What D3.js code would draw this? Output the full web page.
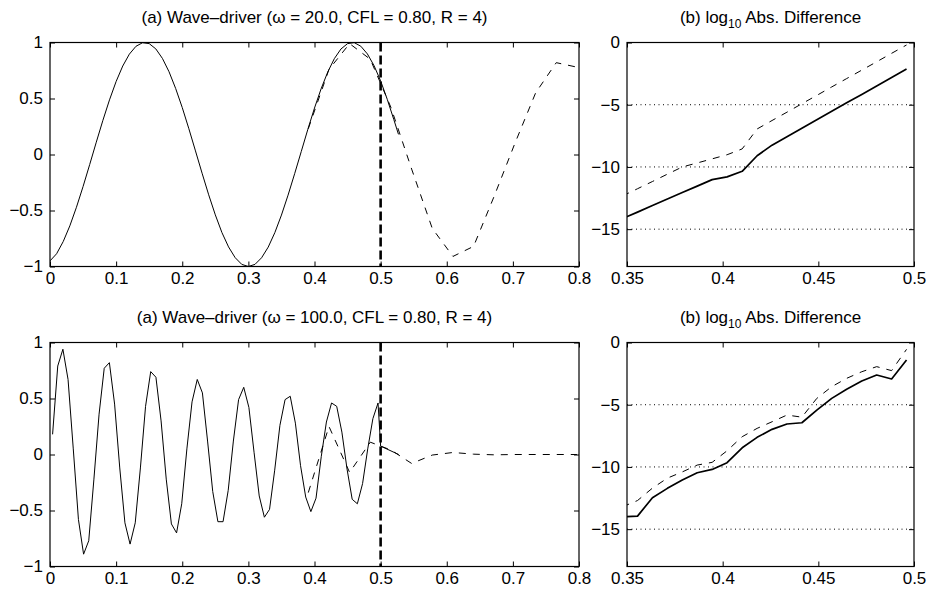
<!DOCTYPE html>
<meta charset="utf-8">
<style>
  body { margin: 0; background: #fff; }
  svg { font-family: Arial, "Liberation Sans", Helvetica, sans-serif; }
  .tick text { font-size: 17px; fill: #000; }
  .tick line { stroke: #000; }
  .title { font-size: 17px; text-anchor: middle; }
</style>
<svg id="fig" width="930" height="592"></svg>
<script src="https://d3js.org/d3.v7.min.js"></script>
<script>
// ---- data ----
var waveTicksX = [0, 0.1, 0.2, 0.3, 0.4, 0.5, 0.6, 0.7, 0.8];
var waveTicksY = [-1, -0.5, 0, 0.5, 1];
var diffTicksX = [0.35, 0.4, 0.45, 0.5];
var diffTicksY = [-15, -10, -5, 0];
var interfaceX = 0.5;

// omega = 20, fine solution (solid)
var fine20 = [[0,-0.95],[0.01,-0.886],[0.02,-0.777],[0.03,-0.637],[0.04,-0.471],[0.05,-0.286],[0.06,-0.09],
  [0.07,0.11],[0.08,0.305],[0.09,0.488],[0.1,0.652],[0.11,0.79],[0.12,0.896],[0.13,0.966],[0.14,0.998],
  [0.15,0.99],[0.16,0.943],[0.17,0.858],[0.18,0.739],[0.19,0.59],[0.2,0.419],[0.21,0.23],[0.22,0.032],
  [0.23,-0.167],[0.24,-0.36],[0.25,-0.539],[0.26,-0.697],[0.27,-0.825],[0.28,-0.921],[0.29,-0.981],
  [0.3,-1],[0.31,-0.981],[0.32,-0.922],[0.33,-0.827],[0.34,-0.698],[0.35,-0.541],[0.36,-0.363],
  [0.37,-0.171],[0.38,0.027],[0.39,0.226],[0.4,0.415],[0.41,0.587],[0.42,0.736],[0.43,0.856],
  [0.44,0.942],[0.45,0.99],[0.46,0.999],[0.47,0.967],[0.48,0.898],[0.49,0.794],[0.5,0.657],
  [0.51,0.493],[0.52,0.311],[0.527,0.18]];
// omega = 20, coarse solution (dashed)
var coarse20 = [[0.3906,0.23],[0.4219,0.76],[0.4531,0.99],[0.4844,0.85],[0.5156,0.42],[0.5469,-0.13],
  [0.5781,-0.66],[0.6094,-0.91],[0.6406,-0.82],[0.6719,-0.37],[0.7031,0.1],[0.7344,0.55],
  [0.7656,0.82],[0.7969,0.78]];

var fineX = [0.0039,0.0117,0.0195,0.0273,0.0352,0.0430,0.0508,0.0586,0.0664,0.0742,0.0820,0.0898,
  0.0977,0.1055,0.1133,0.1211,0.1289,0.1367,0.1445,0.1523,0.1602,0.1680,0.1758,0.1836,0.1914,0.1992,
  0.2070,0.2148,0.2227,0.2305,0.2383,0.2461,0.2539,0.2617,0.2695,0.2773,0.2852,0.2930,0.3008,0.3086,
  0.3164,0.3242,0.3320,0.3398,0.3477,0.3555,0.3633,0.3711,0.3789,0.3867,0.3945,0.4023,0.4102,0.4180,
  0.4258,0.4336,0.4414,0.4492,0.4570,0.4648,0.4727,0.4805,0.4883,0.4961,0.5,0.5273];
// omega = 100, fine solution (solid)
var fine100 = [0.18,0.79,0.94,0.67,0.05,-0.58,-0.89,-0.77,-0.22,0.36,0.77,0.82,0.45,-0.12,-0.61,-0.8,
  -0.61,-0.12,0.43,0.74,0.69,0.3,-0.22,-0.62,-0.7,-0.44,0.05,0.47,0.67,0.55,0.12,-0.33,-0.6,-0.6,
  -0.32,0.12,0.49,0.6,0.42,0.02,-0.37,-0.56,-0.49,-0.14,0.26,0.49,0.52,0.28,-0.1,-0.38,-0.51,-0.39,
  -0.02,0.29,0.46,0.43,0.2,-0.13,-0.4,-0.44,-0.26,0.05,0.32,0.46,0.075,0.0];
// omega = 100, coarse solution (dashed)
var coarse100 = [[0.3906,-0.34],[0.4219,0.25],[0.4531,-0.16],[0.4844,0.11],[0.5156,0.04],[0.5469,-0.08],
  [0.5781,-0.005],[0.6094,0.018],[0.6406,0.003],[0.6719,-0.003],[0.7031,0],[0.7344,0],[0.7656,0],[0.7969,0]];

var diffX = [0.3477,0.3555,0.3633,0.3711,0.3789,0.3867,0.3945,0.4023,0.4102,0.4180,0.4258,0.4336,
  0.4414,0.4492,0.4570,0.4648,0.4727,0.4805,0.4883,0.4961];
var diff20Solid = [-14.15,-13.63,-13.1,-12.58,-12.06,-11.54,-11.02,-10.8,-10.35,-9.1,-8.25,-7.57,-6.89,
  -6.21,-5.53,-4.85,-4.17,-3.49,-2.81,-2.13];
var diff20Dash = [-12.33,-11.75,-11.17,-10.58,-10.0,-9.68,-9.35,-9.02,-8.55,-6.95,-6.27,-5.6,-4.92,
  -4.25,-3.57,-2.9,-2.22,-1.55,-0.87,-0.2];
var diff100Solid = [-14.0,-13.95,-12.47,-11.72,-11.05,-10.47,-10.2,-9.66,-8.46,-7.62,-6.98,-6.55,-6.45,
  -5.43,-4.49,-3.76,-3.1,-2.61,-2.93,-1.41];
var diff100Dash = [-13.2,-12.7,-11.7,-10.9,-10.4,-9.85,-9.63,-8.7,-7.57,-6.9,-6.37,-5.83,-6.0,-4.49,
  -3.55,-2.88,-2.35,-1.94,-2.26,-0.55];

// ---- layout ----
var svg = d3.select("#fig");
var cols = [{x0: 50, x1: 579}, {x0: 627, x1: 914}];
var rows = [{y0: 42.5, y1: 266.5}, {y0: 342.5, y1: 566.5}];

function zip(xs, ys) { return xs.map(function(x, i) { return [x, ys[i]]; }); }

function panel(id, col, row, xDom, yDom, xTicks, yTicks) {
  var x = d3.scaleLinear().domain(xDom).range([col.x0, col.x1]);
  var y = d3.scaleLinear().domain(yDom).range([row.y1, row.y0]);
  var g = svg.append("g");
  g.append("clipPath").attr("id", id).append("rect")
    .attr("x", col.x0).attr("y", row.y0).attr("width", col.x1 - col.x0).attr("height", row.y1 - row.y0);
  var fmt = function(d) { return d3.format("~g")(d); };
  g.append("g").attr("transform", "translate(0," + row.y1 + ")")
    .call(d3.axisBottom(x).tickValues(xTicks).tickSize(-5).tickPadding(5).tickFormat(fmt))
    .call(function(a) { a.select(".domain").remove(); });
  g.append("g").attr("transform", "translate(0," + row.y0 + ")")
    .call(d3.axisTop(x).tickValues(xTicks).tickSize(-5).tickFormat(""))
    .call(function(a) { a.select(".domain").remove(); });
  g.append("g").attr("transform", "translate(" + col.x0 + ",0)")
    .call(d3.axisLeft(y).tickValues(yTicks).tickSize(-5).tickPadding(7).tickFormat(fmt))
    .call(function(a) { a.select(".domain").remove(); });
  g.append("g").attr("transform", "translate(" + col.x1 + ",0)")
    .call(d3.axisRight(y).tickValues(yTicks).tickSize(-5).tickFormat(""))
    .call(function(a) { a.select(".domain").remove(); });
  g.selectAll(".tick text").attr("font-family", null).attr("font-size", null);
  var plot = g.append("g").attr("clip-path", "url(#" + id + ")");
  return {x: x, y: y, g: g, plot: plot, col: col, row: row};
}

function frame(p) {
  p.g.append("rect").attr("x", p.col.x0).attr("y", p.row.y0)
    .attr("width", p.col.x1 - p.col.x0).attr("height", p.row.y1 - p.row.y0)
    .attr("fill", "none").attr("stroke", "#000").attr("stroke-width", 1.2);
}

function drawLine(p, pts, width, dash) {
  var line = d3.line().x(function(d) { return p.x(d[0]); }).y(function(d) { return p.y(d[1]); });
  p.plot.append("path").datum(pts).attr("d", line)
    .attr("fill", "none").attr("stroke", "#000").attr("stroke-width", width)
    .attr("stroke-dasharray", dash || null).attr("stroke-linejoin", "round");
}

function title(p, txt, sub, rest) {
  var t = p.g.append("text").attr("class", "title")
    .attr("x", (p.col.x0 + p.col.x1) / 2).attr("y", p.row.y0 - 20);
  t.append("tspan").text(txt);
  if (sub) {
    t.append("tspan").attr("dy", 5).attr("font-size", 12).text(sub);
    t.append("tspan").attr("dy", -5).text(rest);
  }
}

function wavePanel(id, row, fine, coarse, label) {
  var p = panel(id, cols[0], row, [0, 0.8], [-1, 1], waveTicksX, waveTicksY);
  drawLine(p, coarse, 1, "7,7");
  drawLine(p, fine, 1);
  p.plot.append("line")
    .attr("x1", p.x(interfaceX)).attr("x2", p.x(interfaceX))
    .attr("y1", p.y(1)).attr("y2", p.y(-1))
    .attr("stroke", "#000").attr("stroke-width", 2.6).attr("stroke-dasharray", "9,4");
  frame(p);
  title(p, label);
}

function diffPanel(id, row, solid, dash) {
  var p = panel(id, cols[1], row, [0.35, 0.5], [-18, 0], diffTicksX, diffTicksY);
  [-15, -10, -5].forEach(function(v) {
    p.plot.append("line").attr("x1", p.col.x0).attr("x2", p.col.x1)
      .attr("y1", p.y(v)).attr("y2", p.y(v))
      .attr("stroke", "#000").attr("stroke-width", 1).attr("stroke-dasharray", "1,3.5");
  });
  drawLine(p, zip(diffX, dash), 1, "7,7");
  drawLine(p, zip(diffX, solid), 1.7);
  frame(p);
  title(p, "(b) log", "10", " Abs. Difference");
}

wavePanel("c1", rows[0], fine20, coarse20, "(a) Wave\u2013driver (\u03c9 = 20.0, CFL = 0.80, R = 4)");
diffPanel("c2", rows[0], diff20Solid, diff20Dash);
wavePanel("c3", rows[1], zip(fineX, fine100), coarse100, "(a) Wave\u2013driver (\u03c9 = 100.0, CFL = 0.80, R = 4)");
diffPanel("c4", rows[1], diff100Solid, diff100Dash);
</script>
